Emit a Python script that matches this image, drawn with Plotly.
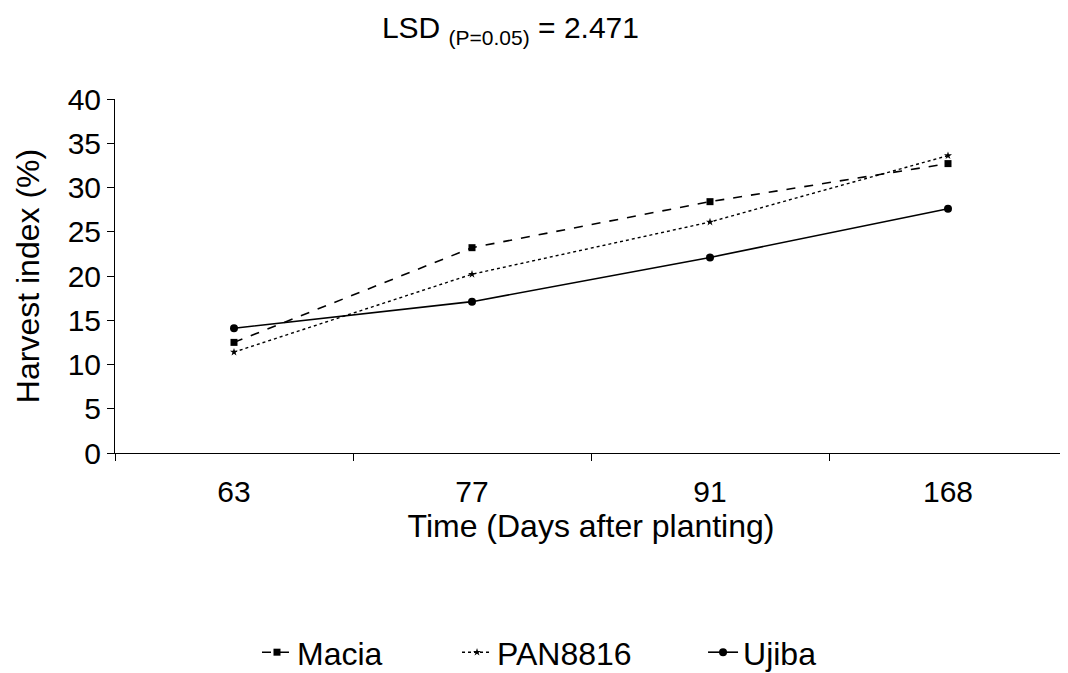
import plotly.graph_objects as go

categories = ["63", "77", "91", "168"]
macia = [12.5, 23.2, 28.4, 32.7]
pan8816 = [11.4, 20.2, 26.1, 33.6]
ujiba = [14.1, 17.1, 22.1, 27.6]
y_ticks = [0, 5, 10, 15, 20, 25, 30, 35, 40]

FONT = "Liberation Sans, Arial, sans-serif"

fig = go.Figure()
fig.add_trace(go.Scatter(x=categories, y=macia, name="Macia", mode="lines+markers",
                         legend="legend",
                         line=dict(color="black", width=1.6, dash="dash"),
                         marker=dict(symbol="square", size=7, color="black")))
fig.add_trace(go.Scatter(x=categories, y=pan8816, name="PAN8816", mode="lines+markers",
                         legend="legend2",
                         line=dict(color="black", width=1.4, dash="dot"),
                         marker=dict(symbol="star", size=6, color="black")))
fig.add_trace(go.Scatter(x=categories, y=ujiba, name="Ujiba", mode="lines+markers",
                         legend="legend3",
                         line=dict(color="black", width=1.6),
                         marker=dict(symbol="circle", size=8, color="black")))


def leg(xpos):
    return dict(orientation="h", x=xpos, xanchor="left", xref="container",
                y=0.031, yanchor="middle", yref="container",
                font=dict(family=FONT, size=32, color="black"),
                bgcolor="rgba(0,0,0,0)")


fig.update_layout(
    width=1060, height=665,
    paper_bgcolor="white", plot_bgcolor="white",
    margin=dict(l=107, r=1, t=91, b=220),
    font=dict(family=FONT, size=30, color="black"),
    title=dict(text="LSD <sub>(P=0.05)</sub> = 2.471", x=0.474, xanchor="center",
               y=0.97, yanchor="middle", font=dict(family=FONT, size=30, color="black")),
    showlegend=True,
    legend=leg(0.2349),
    legend2=leg(0.4236),
    legend3=leg(0.6557),
    xaxis=dict(type="category", range=[-0.5, 3.5], tickson="boundaries",
               ticks="outside", ticklen=7, tickcolor="black", showline=True,
               linecolor="black", linewidth=1, showgrid=False, zeroline=False,
               tickfont=dict(size=30), ticklabelstandoff=12,
               title=dict(text="Time (Days after planting)", font=dict(size=32), standoff=2)),
    yaxis=dict(range=[0, 40], tickvals=y_ticks, ticks="outside", ticklen=7,
               tickcolor="black", showline=True, linecolor="black", linewidth=1,
               showgrid=False, zeroline=False, tickfont=dict(size=30),
               title=dict(text="Harvest index (%)", font=dict(size=32), standoff=18)),
)

fig.write_html("out.html")
